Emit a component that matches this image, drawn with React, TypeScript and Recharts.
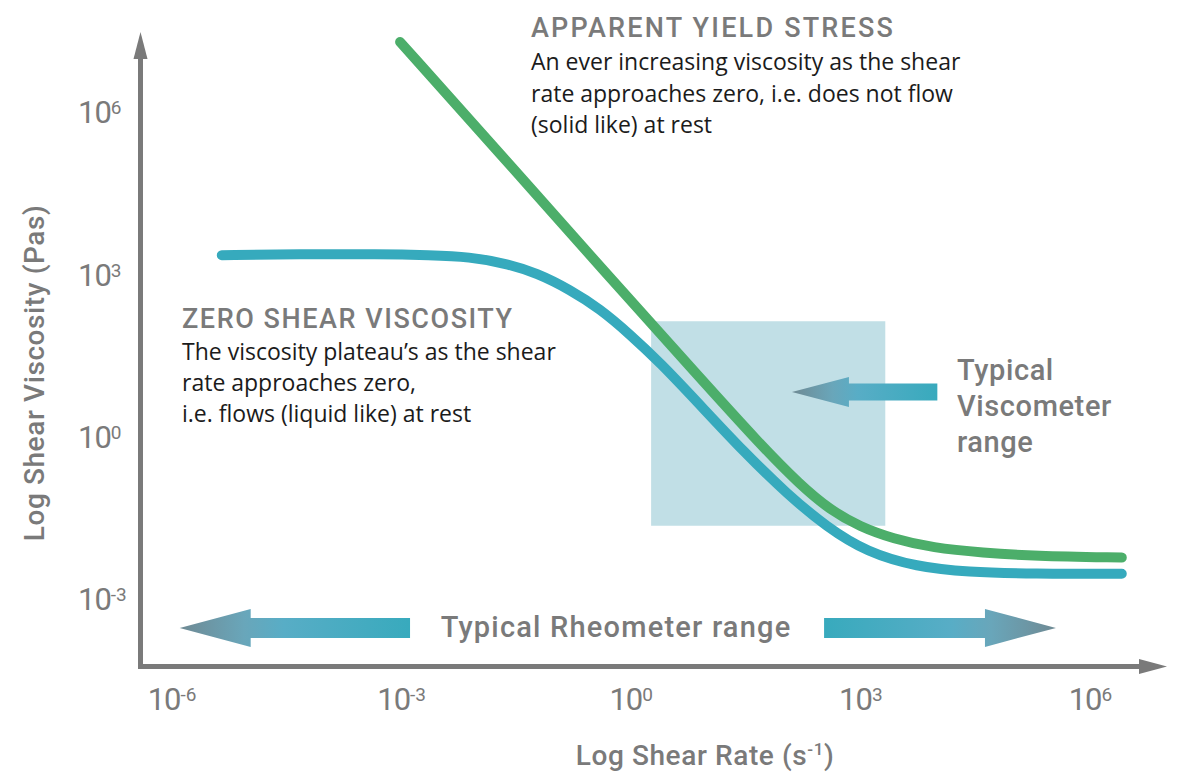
import { LineChart, Line, XAxis, YAxis, ReferenceArea, ReferenceLine } from "recharts";

// all values are log10 exponents (log-log chart)
const yieldRate = [-3.02, -1.71, -0.32, 0.9, 1.68, 2.21, 2.6, 2.99, 3.42, 3.94, 4.6, 5.25, 6.41];
const yieldVisc = [7.29, 5.22, 3.0, 1.08, -0.14, -0.9, -1.36, -1.67, -1.89, -2.06, -2.15, -2.21, -2.24];

const zeroRate = [-5.35, -4.33, -3.29, -2.63, -2.11, -1.65, -1.23, -0.8, -0.41, -0.02, 0.38, 0.9, 1.46, 2.04, 2.56, 3.08, 3.73, 4.39, 5.25, 6.41];
const zeroVisc = [3.35, 3.37, 3.37, 3.35, 3.32, 3.2, 3.02, 2.71, 2.36, 1.89, 1.36, 0.58, -0.27, -1.07, -1.68, -2.14, -2.41, -2.51, -2.54, -2.54];

const rateTicks = [-6, -3, 0, 3, 6];
const viscTicks = [-3, 0, 3, 6];

const rateDomain = [-6.412, 6.635];
const viscDomain = [-4.253, 7.401];
const yArrowBase = 6.976;

// viscometer box [x1, x2, y1, y2]
const viscometerBox = [0.26, 3.32, -1.65, 2.13];
// arrows: [tailX, tipX, y]
const rheoLeft = [-2.89, -5.9, -3.54];
const rheoRight = [2.52, 5.55, -3.54];
const viscArrow = [4.0, 2.1, 0.82];

const yieldTitle = "APPARENT YIELD STRESS";
const yieldText = [
  "An ever increasing viscosity as the shear",
  "rate approaches zero, i.e. does not flow",
  "(solid like) at rest",
];
const zeroTitle = "ZERO SHEAR VISCOSITY";
const zeroText = [
  "The viscosity plateau\u2019s as the shear",
  "rate approaches zero,",
  "i.e. flows (liquid like) at rest",
];
const viscometerText = ["Typical", "Viscometer", "range"];
const rheometerText = "Typical Rheometer range";

const GREY = "#7a7a7a";
const GREEN = "#4cae6a";
const BLUE = "#36aabd";
const LABEL_FONT = "Roboto, 'Noto Sans', sans-serif";
const TICK_FONT = "Roboto, sans-serif";
const BODY_FONT = "'Open Sans', 'Noto Sans', sans-serif";

const yieldData = yieldRate.map((x, i) => ({ x, v: yieldVisc[i] }));
const zeroData = zeroRate.map((x, i) => ({ x, v: zeroVisc[i] }));

function XTick(props: any) {
  const { x, payload } = props;
  return (
    <text x={x} y={710} textAnchor="middle" fill={GREY} fontFamily={TICK_FONT} fontSize={31} letterSpacing={-1}>
      10
      <tspan dy={-9} fontSize={19} letterSpacing={0}>{payload.value}</tspan>
    </text>
  );
}

function YTick(props: any) {
  const { y, payload } = props;
  return (
    <text x={78} y={y + 11.5} textAnchor="start" fill={GREY} fontFamily={TICK_FONT} fontSize={31} letterSpacing={-1}>
      10
      <tspan dy={-9} fontSize={19} letterSpacing={0}>{payload.value}</tspan>
    </text>
  );
}

function axisArrow(props: any) {
  const { x1, y1, x2, y2 } = props;
  const horizontal = Math.abs(x2 - x1) > Math.abs(y2 - y1);
  const head = horizontal
    ? `${x2},${y2 - 7.5} ${x2 + 28},${y2} ${x2},${y2 + 7.5}`
    : `${x2 - 7},${y2} ${x2},${y2 - 27} ${x2 + 7},${y2}`;
  return (
    <g>
      <line x1={x1} y1={y1} x2={x2} y2={y2} stroke={GREY} strokeWidth={5} strokeLinecap="square" />
      <polygon points={head} fill={GREY} />
    </g>
  );
}

function fatArrow(id: string, headLen: number, headHalf: number, shaftHalf: number) {
  return (props: any) => {
    const { x1, y1, x2 } = props;
    const dir = x2 > x1 ? 1 : -1;
    const base = x2 - dir * headLen;
    const y = y1;
    const pts = [
      [x1, y - shaftHalf],
      [base, y - shaftHalf],
      [base, y - headHalf],
      [x2, y],
      [base, y + headHalf],
      [base, y + shaftHalf],
      [x1, y + shaftHalf],
    ]
      .map((p) => p.join(","))
      .join(" ");
    return (
      <g>
        <defs>
          <linearGradient id={id} gradientUnits="userSpaceOnUse" x1={x1} y1={y} x2={x2} y2={y}>
            <stop offset="0" stopColor="#38aabd" />
            <stop offset="0.55" stopColor="#58adc6" />
            <stop offset="0.72" stopColor="#69a6ba" />
            <stop offset="1" stopColor="#6f8a94" />
          </linearGradient>
        </defs>
        <polygon points={pts} fill={`url(#${id})`} />
      </g>
    );
  };
}

export default function App() {
  return (
    <div style={{ position: "absolute", left: 0, top: 0, width: 1200, height: 784, background: "#fff" }}>
      <LineChart width={1200} height={784} margin={{ top: 36, right: 61, bottom: 0, left: 0 }}>
        <XAxis
          type="number"
          dataKey="x"
          domain={rateDomain}
          allowDataOverflow
          ticks={rateTicks}
          height={117.5}
          axisLine={false}
          tickLine={false}
          tick={(p: any) => <XTick {...p} />}
        />
        <YAxis
          type="number"
          dataKey="v"
          domain={viscDomain}
          allowDataOverflow
          ticks={viscTicks}
          width={140.5}
          axisLine={false}
          tickLine={false}
          tick={(p: any) => <YTick {...p} />}
        />
        <ReferenceArea
          x1={viscometerBox[0]}
          x2={viscometerBox[1]}
          y1={viscometerBox[2]}
          y2={viscometerBox[3]}
          fill="#c1dfe6"
          fillOpacity={1}
          stroke="none"
        />
        <ReferenceLine
          segment={[{ x: rateDomain[0], y: viscDomain[0] }, { x: rateDomain[1], y: viscDomain[0] }]}
          ifOverflow="visible"
          shape={axisArrow}
        />
        <ReferenceLine
          segment={[{ x: rateDomain[0], y: viscDomain[0] }, { x: rateDomain[0], y: yArrowBase }]}
          ifOverflow="visible"
          shape={axisArrow}
        />
        <ReferenceLine
          segment={[{ x: rheoLeft[0], y: rheoLeft[2] }, { x: rheoLeft[1], y: rheoLeft[2] }]}
          shape={fatArrow("gradL", 71, 19, 10)}
        />
        <ReferenceLine
          segment={[{ x: rheoRight[0], y: rheoRight[2] }, { x: rheoRight[1], y: rheoRight[2] }]}
          shape={fatArrow("gradR", 71, 19, 10)}
        />
        <ReferenceLine
          segment={[{ x: viscArrow[0], y: viscArrow[2] }, { x: viscArrow[1], y: viscArrow[2] }]}
          shape={fatArrow("gradV", 57, 15, 8.5)}
        />
        <Line
          data={zeroData}
          dataKey="v"
          type="basis"
          stroke={BLUE}
          strokeWidth={10}
          strokeLinecap="round"
          dot={false}
          isAnimationActive={false}
        />
        <Line
          data={yieldData}
          dataKey="v"
          type="basis"
          stroke={GREEN}
          strokeWidth={10}
          strokeLinecap="round"
          dot={false}
          isAnimationActive={false}
        />
      </LineChart>
      <svg
        width={1200}
        height={784}
        style={{ position: "absolute", left: 0, top: 0, pointerEvents: "none" }}
      >
        <text x={531} y={37} fill={GREY} fontFamily={LABEL_FONT} fontWeight={500} fontSize={27} letterSpacing={2.2}>
          {yieldTitle}
        </text>
        {yieldText.map((t, i) => (
          <text key={t} x={531} y={70 + i * 31.5} fill="#1b1b1b" fontFamily={BODY_FONT} fontSize={23}>
            {t}
          </text>
        ))}
        <text x={182} y={328} fill={GREY} fontFamily={LABEL_FONT} fontWeight={500} fontSize={27} letterSpacing={1.55}>
          {zeroTitle}
        </text>
        {zeroText.map((t, i) => (
          <text key={t} x={182} y={360 + i * 31} fill="#1b1b1b" fontFamily={BODY_FONT} fontSize={23}>
            {t}
          </text>
        ))}
        {viscometerText.map((t, i) => (
          <text key={t} x={957} y={380 + i * 36} fill={GREY} fontFamily={LABEL_FONT} fontWeight={500} fontSize={29} letterSpacing={0.6}>
            {t}
          </text>
        ))}
        <text x={616} y={637} textAnchor="middle" fill={GREY} fontFamily={LABEL_FONT} fontWeight={500} fontSize={29} letterSpacing={1.2}>
          {rheometerText}
        </text>
        <text x={705} y={765} textAnchor="middle" fill={GREY} fontFamily={LABEL_FONT} fontWeight={500} fontSize={28} letterSpacing={0.6}>
          Log Shear Rate (s
          <tspan dy={-10} fontSize={17}>-1</tspan>
          <tspan dy={10}>)</tspan>
        </text>
        <text
          x={44}
          y={373}
          transform="rotate(-90 44 373)"
          textAnchor="middle"
          fill={GREY}
          fontFamily={LABEL_FONT}
          fontWeight={500}
          fontSize={28}
          letterSpacing={0.6}
        >
          Log Shear Viscosity (Pas)
        </text>
      </svg>
    </div>
  );
}
